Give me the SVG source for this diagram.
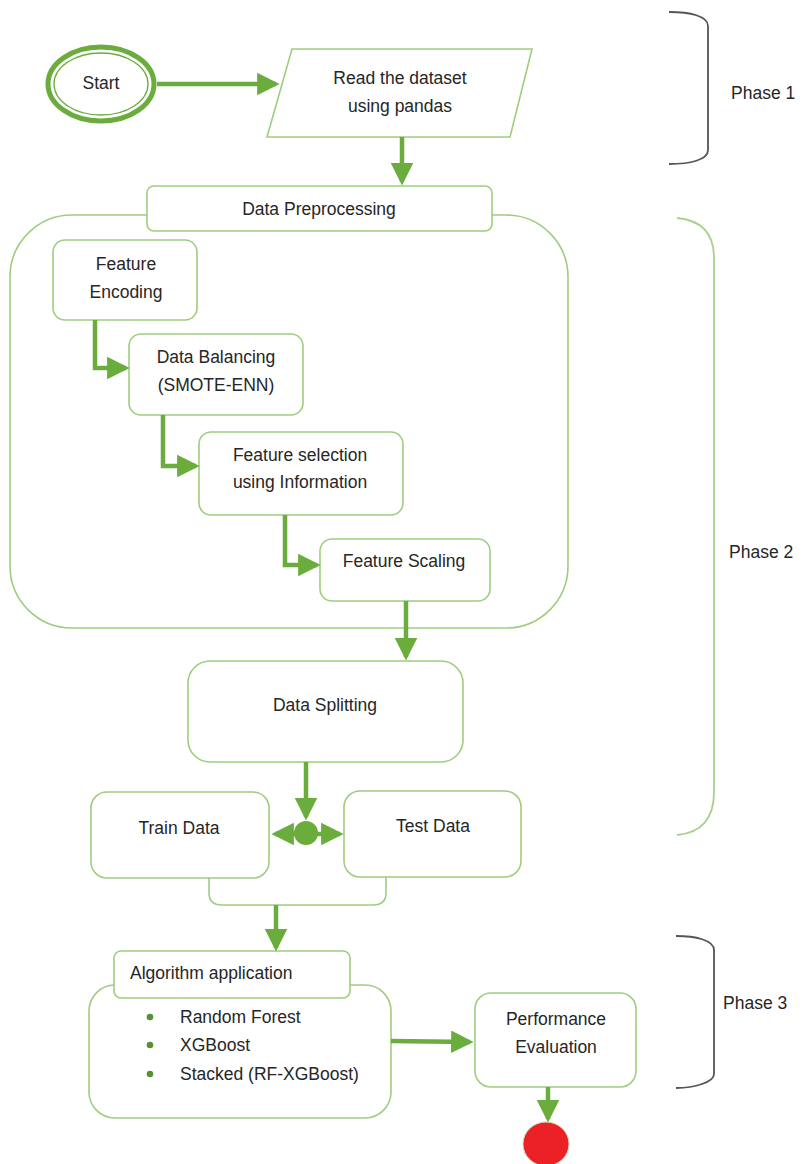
<svg xmlns="http://www.w3.org/2000/svg" width="802" height="1164" viewBox="0 0 802 1164">
  <style>
    .box { fill: #ffffff; stroke: #9fcd7f; stroke-width: 1.6; }
    .lbl { font-family: "Liberation Sans", Arial, sans-serif; font-size: 17.5px; fill: #262626; text-anchor: middle; }
    .lft { text-anchor: start; }
    .flow { fill: none; stroke: #6aad3d; stroke-width: 4.5; }
    .brk { fill: none; stroke-width: 1.8; }
  </style>
  <defs>
    <marker id="ah" markerWidth="5" markerHeight="5" refX="4.2" refY="2.5" orient="auto" markerUnits="strokeWidth">
      <path d="M0,0 L5,2.5 L0,5 Z" fill="#6aad3d"/>
    </marker>
  </defs>

  <!-- phase brackets -->
  <g id="phase1">
    <path class="brk" stroke="#555" d="M669,12 C690,12 708,16 708,26 L708,150 C708,160 690,164 669,164"/>
    <text class="lbl lft" x="731" y="99">Phase 1</text>
  </g>
  <g id="phase2">
    <path class="brk" stroke="#a9d18e" d="M677,218 C700,220 714,232 714,258 L714,792 C714,820 700,833 677,835"/>
    <text class="lbl lft" x="729" y="558">Phase 2</text>
  </g>
  <g id="phase3">
    <path class="brk" stroke="#555" d="M676,936 C695,936 714,940 714,950 L714,1074 C714,1082 695,1088 676,1088"/>
    <text class="lbl lft" x="723" y="1009">Phase 3</text>
  </g>

  <!-- preprocessing container -->
  <g id="preprocessing">
    <rect class="box" x="10" y="215" width="558" height="413" rx="62" ry="62"/>
    <rect class="box" x="147" y="186" width="345" height="45" rx="7"/>
    <text class="lbl" x="319" y="215">Data Preprocessing</text>
  </g>

  <g id="start">
    <ellipse cx="101" cy="84" rx="53" ry="37" fill="#fff" stroke="#6aad3d" stroke-width="5"/>
    <ellipse cx="101" cy="84" rx="47" ry="31" fill="none" stroke="#6aad3d" stroke-width="1.3"/>
    <text class="lbl" x="101" y="89">Start</text>
  </g>

  <g id="read">
    <path class="box" d="M292,49 L532,49 L510,137 L267,137 Z"/>
    <text class="lbl" x="400" y="84">Read the dataset</text>
    <text class="lbl" x="400" y="112">using pandas</text>
  </g>

  <g id="encoding">
    <rect class="box" x="53" y="240" width="144" height="80" rx="12"/>
    <text class="lbl" x="126" y="270">Feature</text>
    <text class="lbl" x="126" y="298">Encoding</text>
  </g>
  <g id="balancing">
    <rect class="box" x="129" y="334" width="174" height="81" rx="12"/>
    <text class="lbl" x="216" y="363">Data Balancing</text>
    <text class="lbl" x="216" y="391">(SMOTE-ENN)</text>
  </g>
  <g id="selection">
    <rect class="box" x="199" y="432" width="204" height="83" rx="12"/>
    <text class="lbl" x="300" y="461">Feature selection</text>
    <text class="lbl" x="300" y="488">using Information</text>
  </g>
  <g id="scaling">
    <rect class="box" x="320" y="539" width="170" height="62" rx="12"/>
    <text class="lbl" x="404" y="567">Feature Scaling</text>
  </g>

  <g id="splitting">
    <rect class="box" x="188" y="661" width="275" height="101" rx="22"/>
    <text class="lbl" x="325" y="711">Data Splitting</text>
  </g>
  <g id="train">
    <rect class="box" x="91" y="792" width="178" height="86" rx="16"/>
    <text class="lbl" x="179" y="834">Train Data</text>
  </g>
  <g id="test">
    <rect class="box" x="344" y="791" width="177" height="86" rx="16"/>
    <text class="lbl" x="433" y="832">Test Data</text>
  </g>
  <g id="merge">
    <path class="box" d="M209,878 L209,893 C209,901 214,905 222,905 L373,905 C381,905 386,901 386,893 L386,877" style="fill:none"/>
  </g>

  <g id="algorithms">
    <rect class="box" x="89" y="985" width="302" height="133" rx="26"/>
    <rect class="box" x="114" y="951" width="236" height="47" rx="7"/>
    <text class="lbl lft" x="130" y="979">Algorithm application</text>
    <g fill="#5a8f35">
      <circle cx="150" cy="1017" r="3.3"/>
      <circle cx="150" cy="1045" r="3.3"/>
      <circle cx="150" cy="1074" r="3.3"/>
    </g>
    <text class="lbl lft" x="180" y="1023">Random Forest</text>
    <text class="lbl lft" x="180" y="1051">XGBoost</text>
    <text class="lbl lft" x="180" y="1080">Stacked (RF-XGBoost)</text>
  </g>

  <g id="evaluation">
    <rect class="box" x="475" y="993" width="161" height="94" rx="16"/>
    <text class="lbl" x="556" y="1025">Performance</text>
    <text class="lbl" x="556" y="1053">Evaluation</text>
  </g>

  <g id="end">
    <ellipse cx="546" cy="1144" rx="23" ry="22" fill="#ec2127" stroke="#c9d9b0" stroke-width="1"/>
  </g>

  <!-- connectors -->
  <g id="connectors">
    <path class="flow" d="M157,84 L276,84" marker-end="url(#ah)"/>
    <path class="flow" d="M402,137 L402,182" marker-end="url(#ah)"/>
    <path class="flow" d="M95,320 L95,368 L126,368" marker-end="url(#ah)"/>
    <path class="flow" d="M163,415 L163,466 L196,466" marker-end="url(#ah)"/>
    <path class="flow" d="M285,515 L285,565 L317,565" marker-end="url(#ah)"/>
    <path class="flow" d="M406,601 L406,657" marker-end="url(#ah)"/>
    <path class="flow" d="M306,762 L306,817" marker-end="url(#ah)"/>
    <circle cx="306" cy="833" r="12" fill="#6aad3d"/>
    <path class="flow" d="M296,834 L275,834" marker-end="url(#ah)"/>
    <path class="flow" d="M316,834 L340,834" marker-end="url(#ah)"/>
    <path class="flow" d="M276,905 L276,948" marker-end="url(#ah)"/>
    <path class="flow" d="M391,1041 L470,1042" marker-end="url(#ah)"/>
    <path class="flow" d="M548,1087 L548,1119" marker-end="url(#ah)"/>
  </g>
</svg>
